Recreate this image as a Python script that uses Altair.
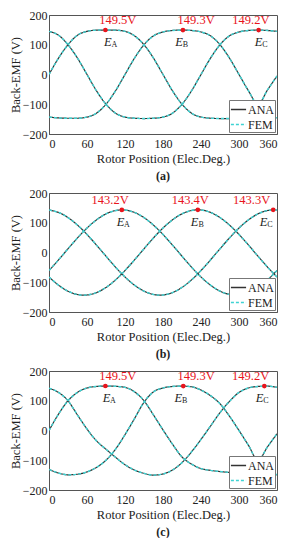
import altair as alt
import pandas as pd

# ---------------- data ----------------
ROTOR_DEG = [0, 15, 30, 45, 60, 75, 90, 105, 120, 135, 150, 165, 180,
             195, 210, 225, 240, 255, 270, 285, 300, 315, 330, 345, 360]
X_TICKS = [0, 60, 120, 180, 240, 300, 360]
Y_TICKS = [-200, -100, 0, 100, 200]
PHASES = ["A", "B", "C"]
SERIES = ["ANA", "FEM"]

# panel (a)
a_A = [0, 55, 100, 132, 145, 149, 149.5, 149, 145, 130, 100, 55, 0,
       -55, -100, -130, -143, -147, -148, -148, -148, -147, -147, -146, -145]
a_B = [-143, -146, -147, -147, -143, -130, -100, -55, 0, 55, 100, 130, 143,
       148, 149.3, 148, 143, 130, 100, 55, 0, -55, -100, -52, -5]
a_C = [145, 132, 100, 55, 0, -55, -100, -130, -143, -147, -148, -147, -143,
       -130, -100, -55, 0, 55, 100, 130, 143, 148, 149.2, 148, 145]
a_peak_x = [89, 211.5, 331]
a_peak_y = [149.5, 149.3, 149.2]
a_peak_txt = ["149.5V", "149.3V", "149.2V"]
a_txt_x = [108.6, 232.3, 318.7]
a_e_x = [92.8, 205.2, 330.7]

# panel (b)
b_A = [-60.5, -24.9, 12.5, 49.0, 82.2, 109.7, 129.8, 141.0, 142.7, 134.6, 117.3, 92.0, 60.5,
       24.9, -12.5, -49.0, -82.2, -109.7, -129.8, -141.0, -142.7, -134.6, -117.3, -92.0, -60.5]
b_B = [-82.3, -109.8, -130.0, -141.2, -142.9, -134.8, -117.5, -92.2, -60.6, -24.9, 12.5, 49.0, 82.3,
       109.8, 130.0, 141.2, 142.9, 134.8, 117.5, 92.2, 60.6, 24.9, -12.5, -49.0, -82.3]
b_C = [142.8, 134.7, 117.4, 92.1, 60.6, 24.9, -12.5, -49.0, -82.2, -109.8, -129.9, -141.1, -142.8,
       -134.7, -117.4, -92.1, -60.6, -24.9, 12.5, 49.0, 82.2, 109.8, 129.9, 141.1, 142.8]
b_peak_x = [115, 235, 354]
b_peak_y = [143.2, 143.4, 143.3]
b_peak_txt = ["143.2V", "143.4V", "143.3V"]
b_txt_x = [96.5, 223, 320]
b_e_x = [112.9, 230, 338.6]

# panel (c)
c_A = [0, 55, 100, 128, 143, 148, 149.5, 148.5, 145, 130, 100, 52, 2,
       -46, -89, -113, -128, -134, -138, -141, -144, -146, -147, -148, -148]
c_B = [-131, -143, -149, -147, -139, -124, -100, -63, -14, 40, 95, 130, 143,
       148, 149.3, 147, 136, 117, 90, 48, 0, -50, -100, -55, -11]
c_C = [142, 128, 100, 52, 5, -35, -63, -90, -115, -133, -144, -150, -146,
       -133, -108, -72, -30, 15, 60, 98, 128, 143, 148, 149, 145]
c_peak_x = [89, 212, 340]
c_peak_y = [149.5, 149.3, 149.2]
c_peak_txt = ["149.5V", "149.3V", "149.2V"]
c_txt_x = [108.6, 232.4, 318.3]
c_e_x = [90.8, 204, 332.3]

PANEL_LABELS = ["(a)", "(b)", "(c)"]

# ---------------- styling ----------------
FONT = "Liberation Serif"
DARK = "#333333"
CYAN = "#3fd3d3"
RED = "#e8141c"
W, H = 228, 119


def build_panel(curves, peak_x, peak_y, peak_txt, txt_x, e_x, label, interp):
    rows = []
    for s in SERIES:
        for ph, vals in zip(PHASES, curves):
            for xv, yv in zip(ROTOR_DEG, vals):
                rows.append({"x": xv, "v": yv, "phase": ph, "series": s})
    df = pd.DataFrame(rows)
    peaks = pd.DataFrame({"x": peak_x, "y": peak_y, "txt": peak_txt,
                          "tx": txt_x, "ex": e_x, "sub": PHASES})

    xscale = alt.Scale(domain=[0, 360], nice=False)
    yscale = alt.Scale(domain=[-200, 200], nice=False)
    xaxis = alt.Axis(values=X_TICKS, title="Rotor Position (Elec.Deg.)", grid=False,
                     ticks=False, labelPadding=4, titlePadding=3, labelOverlap=False)
    yaxis = alt.Axis(values=Y_TICKS, title="Back-EMF (V)", grid=False,
                     ticks=False, labelPadding=2, titlePadding=0, labelOverlap=False)
    leg = alt.Legend(title=None, orient="bottom-right", offset=2, padding=1,
                     fillColor="white", strokeColor="#777777", labelFont=FONT,
                     labelFontSize=12, labelColor="#222", symbolType="stroke",
                     symbolStrokeWidth=1.4, symbolSize=230, rowPadding=0,
                     labelOffset=1, cornerRadius=0)
    col = alt.Color("series:N", scale=alt.Scale(domain=SERIES, range=[DARK, CYAN]),
                    legend=leg)
    dash = alt.StrokeDash("series:N", scale=alt.Scale(domain=SERIES, range=[[1, 0], [3, 2]]),
                          legend=leg)

    def px(field):
        return alt.X(field, scale=xscale, axis=xaxis, title="Rotor Position (Elec.Deg.)")

    def py(field):
        return alt.Y(field, scale=yscale, axis=yaxis, title="Back-EMF (V)")

    def line_layer(name, width):
        return alt.Chart(df).transform_filter(alt.datum.series == name).mark_line(
            interpolate=interp, strokeWidth=width, clip=True).encode(
            x=px("x:Q"), y=py("v:Q"),
            color=col, strokeDash=dash, detail="phase:N")

    ana = line_layer("ANA", 1.2)
    fem = line_layer("FEM", 1.4)
    pbase = alt.Chart(peaks)
    dots = pbase.mark_circle(size=22, color=RED, opacity=1).encode(x=px("x:Q"), y=py("y:Q"))
    vtxt = pbase.mark_text(color=RED, font=FONT, fontSize=12.5, dy=-10).encode(
        x=px("tx:Q"), y=py("y:Q"), text="txt:N")
    etxt = pbase.mark_text(color="#222", font=FONT, fontSize=12.5, fontStyle="italic",
                           dy=12).encode(x=px("ex:Q"), y=py("y:Q"), text=alt.value("E"))
    stxt = pbase.mark_text(color="#222", font=FONT, fontSize=8, dx=6.5, dy=15).encode(
        x=px("ex:Q"), y=py("y:Q"), text="sub:N")
    return alt.layer(ana, fem, dots, vtxt, etxt, stxt).properties(
        width=W, height=H,
        title=alt.TitleParams(label, orient="bottom", font=FONT, fontSize=12,
                              fontWeight="bold", offset=6, color="#222"))


pa = build_panel([a_A, a_B, a_C], a_peak_x, a_peak_y, a_peak_txt, a_txt_x, a_e_x,
                 PANEL_LABELS[0], "monotone")
pb = build_panel([b_A, b_B, b_C], b_peak_x, b_peak_y, b_peak_txt, b_txt_x, b_e_x,
                 PANEL_LABELS[1], "natural")
pc = build_panel([c_A, c_B, c_C], c_peak_x, c_peak_y, c_peak_txt, c_txt_x, c_e_x,
                 PANEL_LABELS[2], "monotone")

chart = alt.vconcat(pa, pb, pc, spacing=4, padding=0).resolve_scale(
    color="independent", strokeDash="independent"
).resolve_legend(
    color="independent", strokeDash="independent"
).configure(font=FONT, padding=0).configure_view(
    stroke="#555555", strokeWidth=1
).configure_axis(
    labelFont=FONT, titleFont=FONT, labelFontSize=12, titleFontSize=12.5,
    labelColor="#222", titleColor="#222", titleFontWeight="normal",
    domainColor="#555555", domainWidth=1, labelOverlap=False
)

chart.save("out.html", embed_options={"renderer": "svg", "actions": False})
